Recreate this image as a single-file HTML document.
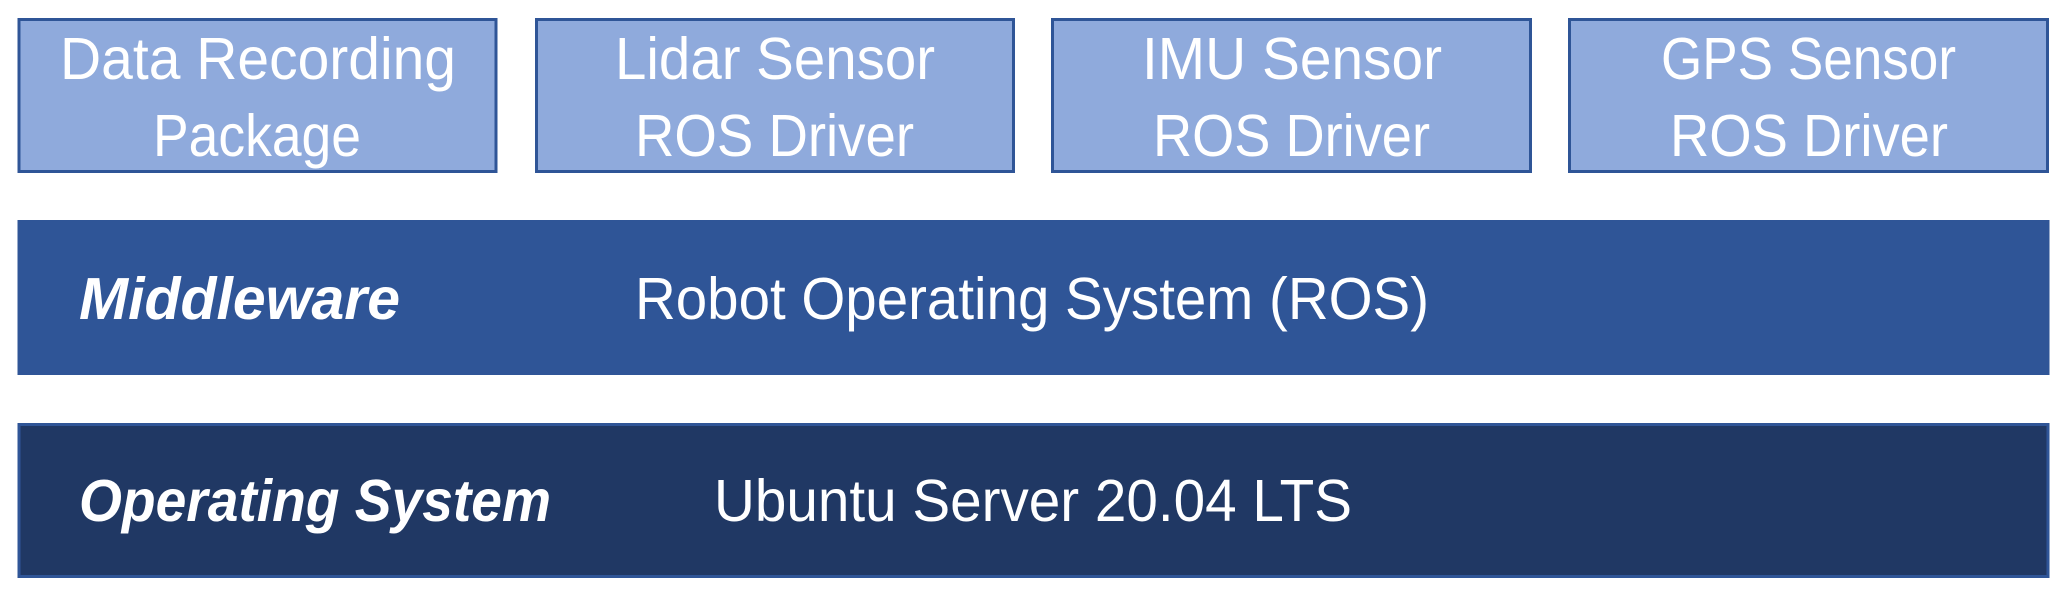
<!DOCTYPE html>
<html><head><meta charset="utf-8"><style>html,body{margin:0;padding:0;background:#fff}</style></head>
<body>
<svg width="2067" height="596" viewBox="0 0 2067 596" xmlns="http://www.w3.org/2000/svg" font-family="'Liberation Sans', sans-serif">
<g fill="#8FAADC" stroke="#2F5597" stroke-width="3">
<rect x="19" y="19.5" width="477" height="152"/>
<rect x="536.5" y="19.5" width="477" height="152"/>
<rect x="1052.5" y="19.5" width="478" height="152"/>
<rect x="1569.5" y="19.5" width="478" height="152"/>
</g>
<rect x="17.5" y="220" width="2032" height="155" fill="#2F5597"/>
<rect x="19" y="424.5" width="2029" height="152" fill="#203864" stroke="#2F5597" stroke-width="3"/>
<g fill="#fff" font-size="59" text-anchor="start">
<text x="60" y="79" textLength="396" lengthAdjust="spacingAndGlyphs">Data Recording</text>
<text x="153" y="156" textLength="208" lengthAdjust="spacingAndGlyphs">Package</text>
<text x="615" y="79" textLength="320" lengthAdjust="spacingAndGlyphs">Lidar Sensor</text>
<text x="635" y="156" textLength="279" lengthAdjust="spacingAndGlyphs">ROS Driver</text>
<text x="1142" y="79" textLength="300" lengthAdjust="spacingAndGlyphs">IMU Sensor</text>
<text x="1153" y="156" textLength="277" lengthAdjust="spacingAndGlyphs">ROS Driver</text>
<text x="1661" y="79" textLength="295" lengthAdjust="spacingAndGlyphs">GPS Sensor</text>
<text x="1670" y="156" textLength="278" lengthAdjust="spacingAndGlyphs">ROS Driver</text>
<text x="79" y="319" font-weight="bold" font-style="italic" textLength="321" lengthAdjust="spacingAndGlyphs">Middleware</text>
<text x="635" y="319" textLength="794" lengthAdjust="spacingAndGlyphs">Robot Operating System (ROS)</text>
<text x="79" y="521" font-weight="bold" font-style="italic" textLength="472" lengthAdjust="spacingAndGlyphs">Operating System</text>
<text x="714" y="521" textLength="638" lengthAdjust="spacingAndGlyphs">Ubuntu Server 20.04 LTS</text>
</g>
</svg>
</body></html>
